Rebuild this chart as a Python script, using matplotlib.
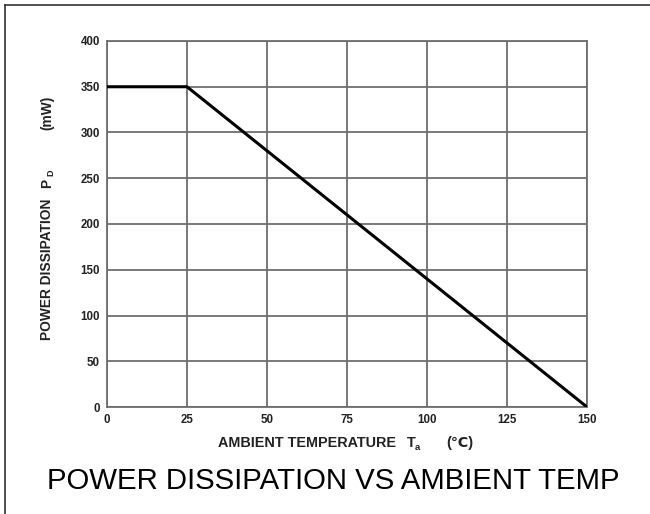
import matplotlib.pyplot as plt
from matplotlib.lines import Line2D

# Derating curve
temp = [0, 25, 150]
power = [350, 350, 0]

x_ticks = [0, 25, 50, 75, 100, 125, 150]
y_ticks = [0, 50, 100, 150, 200, 250, 300, 350, 400]

plt.rcParams['font.family'] = ['Liberation Sans', 'DejaVu Sans']

W, H = 650, 514


def fx(px):
    return px / W


def fy(py):
    return 1 - py / H


fig = plt.figure(figsize=(6.5, 5.14), dpi=100)
ax = fig.add_axes([fx(107), fy(407), 480 / W, 366 / H])

ax.plot(temp, power, color='black', linewidth=2.2, solid_capstyle='butt', zorder=3)

ax.set_xlim(0, 150)
ax.set_ylim(0, 400)
ax.set_xticks(x_ticks)
ax.set_yticks(y_ticks)
ax.grid(True, color='#6e6e6e', linewidth=1.3)
ax.tick_params(length=0, labelsize=8.3, pad=5, colors='#222222')
for lab in ax.get_xticklabels() + ax.get_yticklabels():
    lab.set_fontweight('bold')
for s in ax.spines.values():
    s.set_color('#6e6e6e')
    s.set_linewidth(1.3)

# x axis label, built from pieces
lc = '#222222'
fs = 10.4
fig.text(fx(218), fy(443), 'AMBIENT TEMPERATURE', fontsize=fs, fontweight='bold',
         color=lc, ha='left', va='center')
fig.text(fx(407), fy(443), 'T', fontsize=fs, fontweight='bold', color=lc, ha='left', va='center')
fig.text(fx(415), fy(447), 'a', fontsize=6.8, fontweight='bold', color=lc, ha='left', va='center')
fig.text(fx(446), fy(443), '(\u2103)', fontsize=fs, fontweight='bold', color=lc,
         ha='left', va='center')

# y axis label
fy_fs = 9.9
fig.text(fx(47), fy(340), 'POWER DISSIPATION', fontsize=fy_fs, fontweight='bold', color=lc,
         rotation=90, ha='center', va='bottom')
fig.text(fx(47), fy(188), 'P', fontsize=fy_fs, fontweight='bold', color=lc,
         rotation=90, ha='center', va='bottom')
fig.text(fx(51), fy(176), 'D', fontsize=6.5, fontweight='bold', color=lc,
         rotation=90, ha='center', va='bottom')
fig.text(fx(47), fy(130), '(mW)', fontsize=fy_fs, fontweight='bold', color=lc,
         rotation=90, ha='center', va='bottom')

fig.text(fx(333), fy(481), 'POWER DISSIPATION VS AMBIENT TEMP', fontsize=21.2,
         ha='center', va='center', color='black')

# frame on top and left edges
fig.add_artist(Line2D([fx(5), fx(5)], [0, fy(5)], color='#333333', linewidth=1.2,
                      transform=fig.transFigure))
fig.add_artist(Line2D([fx(5), 1], [fy(5), fy(5)], color='#333333', linewidth=1.2,
                      transform=fig.transFigure))

fig.savefig('out.png', dpi=100)
